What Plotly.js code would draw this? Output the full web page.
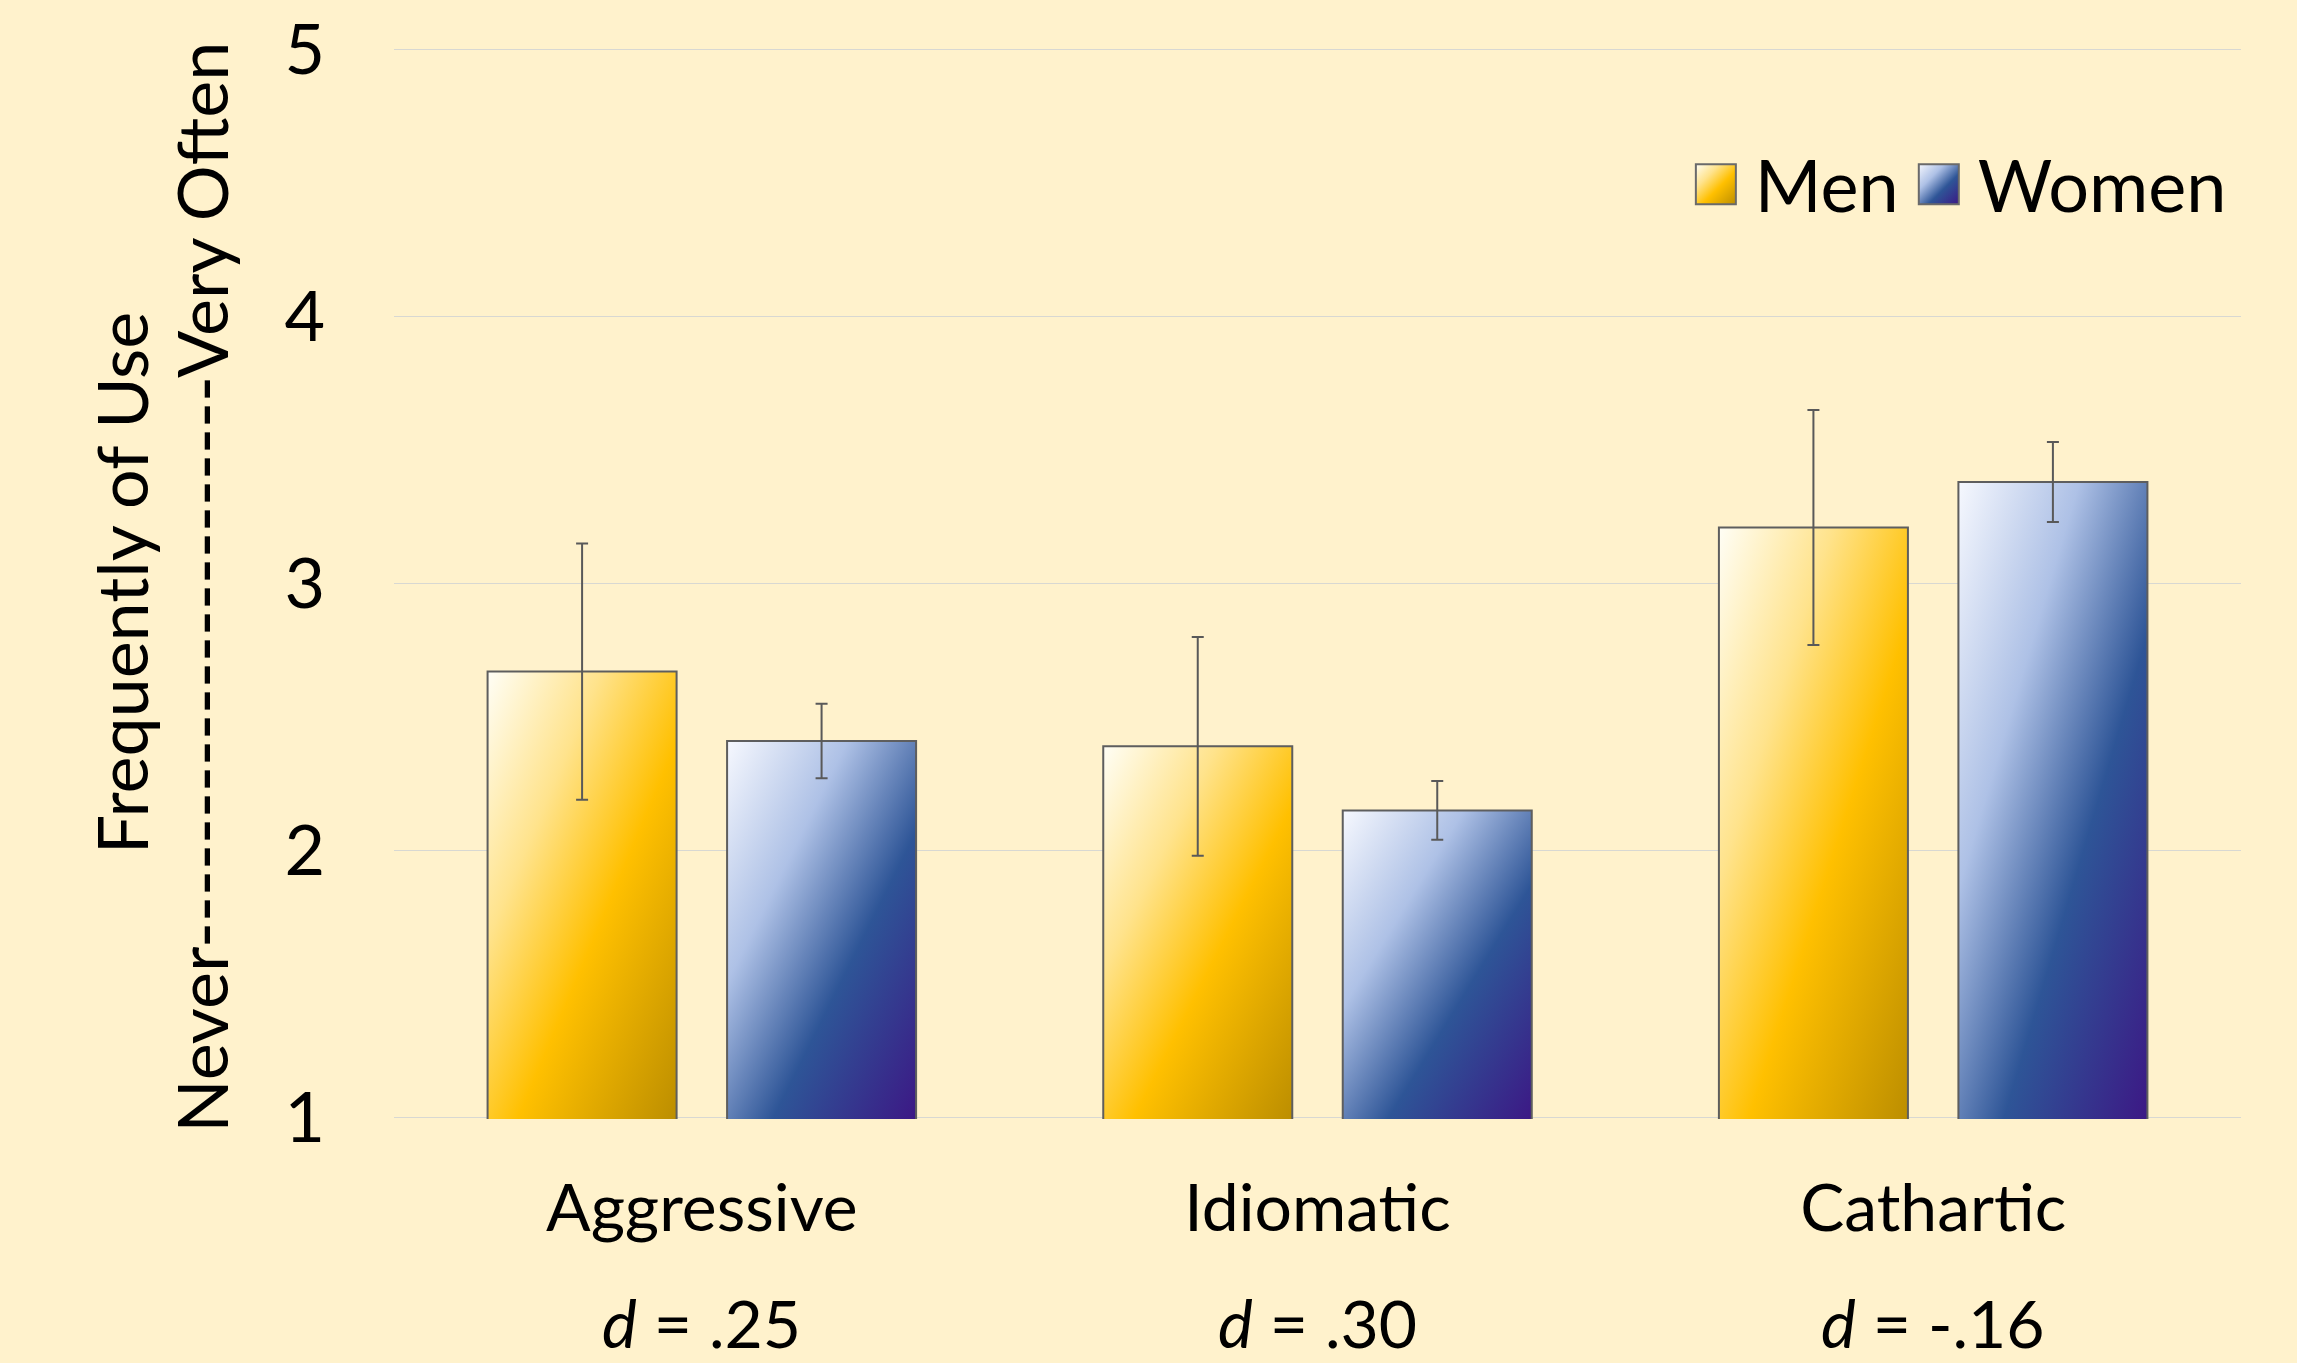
<!DOCTYPE html>
<html><head><meta charset="utf-8">
<script src="https://cdn.plot.ly/plotly-3.0.1.min.js"></script>
<style>html,body{margin:0;padding:0;background:#FFF2CC;}</style>
</head><body>
<div id="chart" style="width:2297px;height:1363px;"></div>
<script>
const categories = ['Aggressive', 'Idiomatic', 'Cathartic'];
const seriesNames = ['Men', 'Women'];
const menValues = [2.67, 2.39, 3.21];
const menErrors = [0.48, 0.41, 0.44];
const womenValues = [2.41, 2.15, 3.38];
const womenErrors = [0.14, 0.11, 0.15];
const effectSizes = ['.25', '.30', '-.16'];
const yTickValues = [1, 2, 3, 4, 5];
const yTickLabels = ['1', '2', '3', '4', '5'];
const yTitleLine1 = 'Frequently of Use';
const yTitleLine2 = 'Never----------------------Very Often';

const FONT = 'Lato, "Open Sans", "DejaVu Sans", sans-serif';
const BG = '#FFF2CC';
const errStyle = {type: 'data', visible: true, color: '#595959', thickness: 2, width: 6};

const traces = [
  {type: 'bar', name: seriesNames[0], x: categories, y: menValues,
   error_y: Object.assign({array: menErrors}, errStyle),
   offset: -0.348, width: 0.307,
   marker: {color: '#FFC000', line: {color: '#5E5E5E', width: 2}}},
  {type: 'bar', name: seriesNames[1], x: categories, y: womenValues,
   error_y: Object.assign({array: womenErrors}, errStyle),
   offset: 0.041, width: 0.307,
   marker: {color: '#2F5597', line: {color: '#5E5E5E', width: 2}}}
];

const annotations = [
  {text: yTitleLine1, xref: 'paper', yref: 'paper', x: -0.148, y: 0.5,
   xanchor: 'center', yanchor: 'middle', textangle: -90, showarrow: false,
   font: {family: FONT, size: 70, color: '#000'}},
  {text: yTitleLine2, xref: 'paper', yref: 'paper', x: -0.1045, y: 0.497,
   xanchor: 'center', yanchor: 'middle', textangle: -90, showarrow: false,
   font: {family: FONT, size: 70, color: '#000'}}
].concat(categories.map((c, i) => ({
  text: '<i>d</i> = ' + effectSizes[i], xref: 'x', yref: 'paper', x: c, y: -0.19,
  xanchor: 'center', yanchor: 'middle', showarrow: false,
  font: {family: FONT, size: 66, color: '#000'}
})));

const layout = {
  width: 2297, height: 1363,
  paper_bgcolor: BG, plot_bgcolor: BG,
  margin: {l: 394, r: 56, t: 48, b: 244, pad: 0},
  barmode: 'overlay',
  showlegend: true,
  legend: {orientation: 'h', x: 0.9826, xanchor: 'right', y: 0.8726, yanchor: 'middle',
           bgcolor: 'rgba(0,0,0,0)', itemwidth: 50,
           font: {family: FONT, size: 72, color: '#000'}},
  xaxis: {type: 'category', tickfont: {family: FONT, size: 66, color: '#000'},
          showgrid: false, zeroline: false, showline: false, ticks: '',
          ticklabelstandoff: 45},
  yaxis: {range: [0.994, 5.006], tickvals: yTickValues, ticktext: yTickLabels,
          tickfont: {family: FONT, size: 70, color: '#000'},
          showgrid: true, gridcolor: '#D8D8D2', gridwidth: 1.5,
          zeroline: false, showline: false, ticks: '', ticklabelstandoff: 68},
  annotations: annotations
};

function addGradient(defs, id, stops, units, coords) {
  const ns = 'http://www.w3.org/2000/svg';
  const g = document.createElementNS(ns, 'linearGradient');
  g.setAttribute('id', id);
  g.setAttribute('gradientUnits', units);
  g.setAttribute('x1', coords[0]); g.setAttribute('y1', coords[1]);
  g.setAttribute('x2', coords[2]); g.setAttribute('y2', coords[3]);
  stops.forEach(s => {
    const st = document.createElementNS(ns, 'stop');
    st.setAttribute('offset', s[0]);
    st.setAttribute('stop-color', s[1]);
    g.appendChild(st);
  });
  defs.appendChild(g);
}

function shiftGroup(el, dx) {
  const tr = el.getAttribute('transform') || '';
  const m = tr.match(/translate\(\s*([-\d.e]+)[ ,]+([-\d.e]+)\s*\)/);
  if (m) {
    el.setAttribute('transform', tr.replace(m[0], 'translate(' + (parseFloat(m[1]) + dx) + ',' + m[2] + ')'));
  } else {
    el.setAttribute('transform', 'translate(' + dx + ',0) ' + tr);
  }
}

const menStops = [[0, '#FFFEF6'], [0.3, '#FFE38C'], [0.58, '#FFC000'], [1, '#BC8E00']];
const womenStops = [[0, '#F6F8FE'], [0.32, '#AEC1E6'], [0.62, '#2E5597'], [1, '#3C1885']];

Plotly.newPlot('chart', traces, layout, {displayModeBar: false, staticPlot: true}).then(gd => {
  const defs = document.querySelector('.main-svg defs');
  const stopsList = [menStops, womenStops];
  const plotH = gd._fullLayout.yaxis._length;
  gd.querySelectorAll('.barlayer .trace.bars').forEach((tr, ti) => {
    tr.querySelectorAll('.point path').forEach((p, pi) => {
      const bb = p.getBBox();
      const x0 = bb.x, y0 = bb.y;
      const w = bb.width;
      const h = Math.min(bb.y + bb.height, plotH) - bb.y;
      const t = 2 * w * h / (h * h + w * w);
      const id = 'bargrad' + ti + '_' + pi;
      addGradient(defs, id, stopsList[ti], 'userSpaceOnUse', [x0, y0, x0 + t * h, y0 + t * w]);
      p.style.fill = 'url(#' + id + ')';
    });
  });
  gd.querySelectorAll('.legend [clip-path]').forEach(el => el.removeAttribute('clip-path'));
  const itemShift = [0, 14];
  gd.querySelectorAll('.legend .traces').forEach((tr, ti) => {
    const id = 'leggrad' + ti;
    addGradient(defs, id, stopsList[ti], 'objectBoundingBox', [0, 0, 1, 1]);
    tr.querySelectorAll('.legendpoints path').forEach(p => {
      p.setAttribute('d', 'M20,20H-20V-20H20Z');
      p.style.fill = 'url(#' + id + ')';
      p.style.stroke = '#6A6A6A';
      p.style.strokeWidth = '2px';
    });
    shiftGroup(tr, itemShift[ti] || 0);
    const txt = tr.querySelector('text.legendtext');
    if (txt) {
      const x = parseFloat(txt.getAttribute('x') || '0');
      txt.setAttribute('x', x + 9);
    }
  });
});
</script>
</body></html>
